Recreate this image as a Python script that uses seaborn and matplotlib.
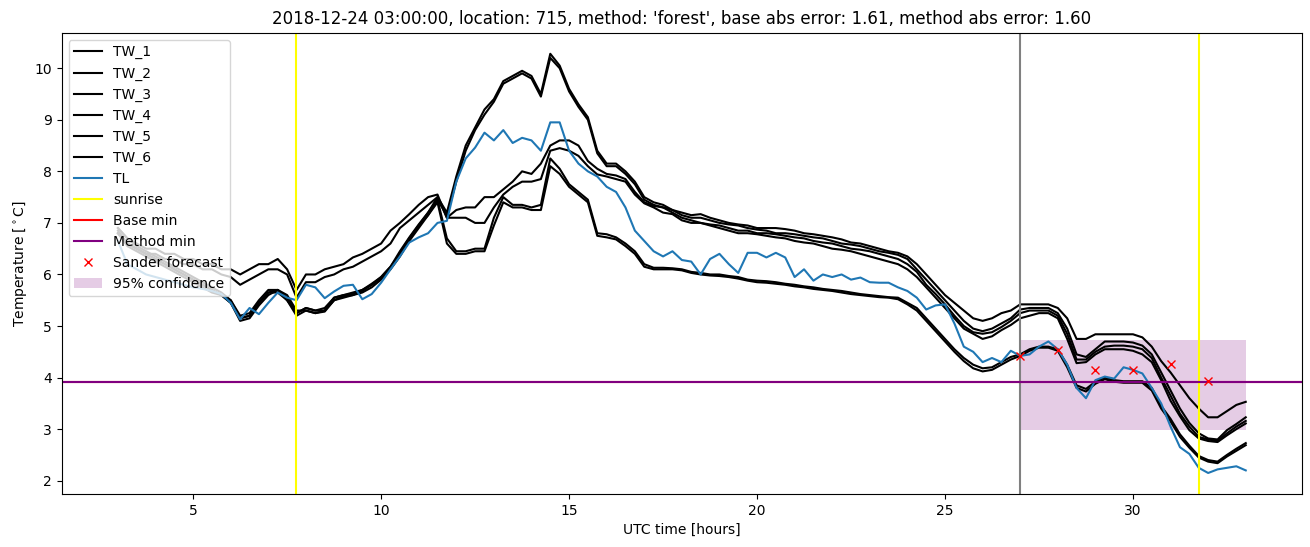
import numpy as np
import matplotlib
matplotlib.use("Agg")
import matplotlib.pyplot as plt
import seaborn as sns

# sampling grid: every 15 minutes from 03:00 (day 1) to 09:00 (day 2)
hours = np.arange(3.0, 33.01, 0.25)

TW_1 = [6.9, 6.7, 6.6, 6.5, 6.5, 6.4, 6.4, 6.3, 6.3, 6.2, 6.2, 6.1,
        6.1, 6.0, 6.1, 6.2, 6.2, 6.3, 6.1, 5.7, 6.0, 6.0, 6.1, 6.15,
        6.2, 6.33, 6.4, 6.5, 6.6, 6.85, 7.0, 7.17, 7.35, 7.5, 7.55, 7.1,
        7.25, 7.3, 7.3, 7.5, 7.5, 7.65, 7.8, 8.0, 7.95, 8.15, 8.5, 8.6,
        8.6, 8.5, 8.2, 8.05, 7.95, 7.92, 7.85, 7.6, 7.4, 7.33, 7.3, 7.25,
        7.15, 7.1, 7.1, 7.05, 7.0, 6.97, 6.95, 6.9, 6.87, 6.85, 6.8, 6.8,
        6.78, 6.75, 6.72, 6.7, 6.65, 6.6, 6.58, 6.55, 6.5, 6.45, 6.42, 6.38,
        6.3, 6.1, 5.9, 5.7, 5.5, 5.3, 5.1, 4.95, 4.9, 4.95, 5.05, 5.15,
        5.32, 5.35, 5.35, 5.35, 5.25, 4.95, 4.45, 4.4, 4.55, 4.7, 4.7, 4.7,
        4.68, 4.62, 4.45, 4.1, 3.75, 3.4, 3.12, 2.92, 2.82, 2.8, 2.98, 3.1,
        3.23]
TW_2 = [6.8, 6.6, 6.5, 6.4, 6.4, 6.3, 6.3, 6.2, 6.2, 6.1, 6.1, 6.0,
        5.95, 5.8, 5.9, 6.0, 6.1, 6.1, 6.0, 5.55, 5.85, 5.85, 5.95, 6.0,
        6.1, 6.15, 6.25, 6.35, 6.45, 6.6, 6.9, 7.05, 7.2, 7.35, 7.5, 7.1,
        7.1, 7.1, 7.0, 7.0, 7.3, 7.55, 7.7, 7.8, 7.8, 7.85, 8.4, 8.45,
        8.4, 8.3, 8.1, 7.94, 7.9, 7.85, 7.8, 7.55, 7.38, 7.3, 7.2, 7.17,
        7.05, 7.0, 7.0, 6.95, 6.9, 6.85, 6.8, 6.8, 6.78, 6.75, 6.72, 6.7,
        6.65, 6.62, 6.6, 6.55, 6.5, 6.48, 6.45, 6.4, 6.35, 6.3, 6.25, 6.2,
        6.1, 5.95, 5.75, 5.55, 5.35, 5.15, 4.95, 4.85, 4.75, 4.8, 4.92, 5.02,
        5.15, 5.2, 5.25, 5.25, 5.15, 4.75, 4.28, 4.3, 4.45, 4.55, 4.55, 4.55,
        4.52, 4.45, 4.3, 3.95, 3.55, 3.25, 2.98, 2.82, 2.77, 2.75, 2.88, 3.0,
        3.11]
TW_3 = [6.85, 6.6, 6.5, 6.4, 6.3, 6.2, 6.1, 6.0, 5.9, 5.8, 5.7, 5.6,
        5.5, 5.15, 5.2, 5.45, 5.65, 5.7, 5.55, 5.25, 5.35, 5.3, 5.35, 5.55,
        5.6, 5.65, 5.7, 5.8, 5.95, 6.15, 6.4, 6.7, 6.95, 7.2, 7.5, 7.2,
        7.9, 8.5, 8.85, 9.2, 9.4, 9.75, 9.85, 9.95, 9.85, 9.5, 10.28, 10.05,
        9.6, 9.3, 9.05, 8.4, 8.15, 8.15, 8.0, 7.8, 7.5, 7.4, 7.35, 7.25,
        7.2, 7.15, 7.17, 7.1, 7.05, 7.0, 6.97, 6.95, 6.9, 6.9, 6.9, 6.88,
        6.85, 6.8, 6.78, 6.75, 6.72, 6.68, 6.62, 6.6, 6.55, 6.5, 6.45, 6.42,
        6.35, 6.2, 6.0, 5.8, 5.6, 5.45, 5.3, 5.15, 5.1, 5.15, 5.25, 5.3,
        5.42, 5.42, 5.42, 5.42, 5.35, 5.15, 4.75, 4.75, 4.84, 4.84, 4.84, 4.84,
        4.84, 4.78, 4.6, 4.32, 4.1, 3.85, 3.6, 3.4, 3.23, 3.23, 3.35, 3.47,
        3.53]
TW_4 = [6.8, 6.55, 6.45, 6.35, 6.25, 6.15, 6.05, 5.95, 5.85, 5.75, 5.65, 5.6,
        5.45, 5.1, 5.15, 5.4, 5.6, 5.7, 5.6, 5.3, 5.3, 5.25, 5.3, 5.5,
        5.55, 5.6, 5.65, 5.75, 5.9, 6.1, 6.35, 6.65, 6.9, 7.15, 7.45, 7.15,
        7.8, 8.4, 8.8, 9.1, 9.35, 9.7, 9.8, 9.9, 9.8, 9.45, 10.2, 10.0,
        9.55, 9.25, 9.0, 8.35, 8.1, 8.1, 7.95, 7.75, 7.45, 7.35, 7.3, 7.2,
        7.1, 7.05, 7.0, 6.97, 6.95, 6.9, 6.85, 6.85, 6.8, 6.8, 6.78, 6.75,
        6.72, 6.7, 6.65, 6.62, 6.6, 6.55, 6.5, 6.48, 6.45, 6.4, 6.35, 6.3,
        6.2, 6.05, 5.8, 5.62, 5.42, 5.2, 5.0, 4.88, 4.85, 4.88, 4.98, 5.1,
        5.25, 5.3, 5.3, 5.3, 5.2, 4.85, 4.35, 4.35, 4.5, 4.6, 4.62, 4.62,
        4.6, 4.55, 4.38, 4.0, 3.65, 3.3, 3.05, 2.85, 2.8, 2.77, 2.92, 3.05,
        3.16]
TW_5 = [6.9, 6.7, 6.55, 6.45, 6.35, 6.25, 6.15, 6.05, 5.95, 5.85, 5.75, 5.65,
        5.5, 5.2, 5.25, 5.5, 5.7, 5.7, 5.5, 5.25, 5.35, 5.3, 5.3, 5.55,
        5.6, 5.62, 5.7, 5.82, 5.95, 6.15, 6.45, 6.72, 6.97, 7.2, 7.45, 6.7,
        6.45, 6.45, 6.5, 6.5, 7.1, 7.5, 7.35, 7.35, 7.3, 7.35, 8.25, 8.05,
        7.75, 7.6, 7.45, 6.8, 6.78, 6.72, 6.6, 6.45, 6.2, 6.13, 6.13, 6.12,
        6.1, 6.05, 6.03, 6.0, 6.0, 5.97, 5.95, 5.9, 5.88, 5.87, 5.85, 5.82,
        5.8, 5.77, 5.75, 5.72, 5.7, 5.68, 5.65, 5.62, 5.6, 5.58, 5.56, 5.55,
        5.45, 5.35, 5.15, 4.95, 4.75, 4.55, 4.38, 4.25, 4.18, 4.2, 4.3, 4.4,
        4.45, 4.55, 4.6, 4.6, 4.55, 4.25, 3.85, 3.78, 3.92, 4.0, 3.95, 3.93,
        3.93, 3.93, 3.8, 3.45, 3.2, 2.9, 2.68, 2.48, 2.4, 2.37, 2.5, 2.62,
        2.73]
TW_6 = [6.8, 6.6, 6.5, 6.4, 6.3, 6.2, 6.1, 6.0, 5.9, 5.8, 5.7, 5.6,
        5.45, 5.15, 5.2, 5.45, 5.65, 5.65, 5.5, 5.2, 5.3, 5.25, 5.28, 5.5,
        5.58, 5.6, 5.68, 5.8, 5.92, 6.12, 6.42, 6.7, 6.95, 7.15, 7.4, 6.6,
        6.4, 6.4, 6.45, 6.45, 6.95, 7.4, 7.3, 7.3, 7.25, 7.25, 8.1, 7.95,
        7.7, 7.55, 7.4, 6.75, 6.72, 6.68, 6.55, 6.4, 6.15, 6.1, 6.1, 6.1,
        6.08, 6.03, 6.0, 5.98, 5.97, 5.95, 5.92, 5.88, 5.85, 5.84, 5.82, 5.8,
        5.77, 5.75, 5.72, 5.7, 5.68, 5.65, 5.62, 5.6, 5.58, 5.56, 5.55, 5.52,
        5.42, 5.3, 5.1, 4.9, 4.7, 4.5, 4.32, 4.18, 4.12, 4.15, 4.25, 4.35,
        4.42, 4.52, 4.58, 4.58, 4.52, 4.2, 3.8, 3.73, 3.88, 3.97, 3.92, 3.9,
        3.9, 3.9, 3.75, 3.4, 3.15, 2.85, 2.64, 2.45, 2.37, 2.34, 2.47, 2.58,
        2.69]
TL = [6.65, 6.2, 6.1, 6.0, 5.95, 5.9, 5.85, 5.8, 5.75, 5.72, 5.68, 5.62,
      5.45, 5.13, 5.35, 5.23, 5.45, 5.65, 5.55, 5.5, 5.8, 5.75, 5.54, 5.67,
      5.78, 5.8, 5.52, 5.62, 5.84, 6.1, 6.35, 6.62, 6.72, 6.8, 7.0, 7.04,
      7.8, 8.25, 8.46, 8.75, 8.6, 8.8, 8.55, 8.65, 8.6, 8.4, 8.95, 8.95,
      8.4, 8.15, 8.0, 7.9, 7.7, 7.6, 7.3, 6.85, 6.65, 6.45, 6.35, 6.45,
      6.28, 6.25, 6.0, 6.3, 6.4, 6.2, 6.03, 6.42, 6.42, 6.33, 6.42, 6.33,
      5.95, 6.1, 5.88, 6.0, 5.95, 6.0, 5.9, 5.94, 5.85, 5.84, 5.84, 5.75,
      5.68, 5.55, 5.32, 5.4, 5.42, 5.05, 4.6, 4.5, 4.3, 4.38, 4.3, 4.52,
      4.42, 4.45, 4.6, 4.7, 4.55, 4.25, 3.8, 3.6, 3.95, 4.02, 3.98, 4.2,
      4.15, 4.08, 3.8, 3.5, 3.05, 2.65, 2.52, 2.25, 2.15, 2.22, 2.25, 2.28,
      2.2]

sunrise_hours = [7.74, 31.76]
forecast_time = 27.0
base_min = 3.92
method_min = 3.92
sander_hours = [27, 28, 29, 30, 31, 32]
sander_values = [4.41, 4.54, 4.15, 4.15, 4.27, 3.93]
conf_hours = [27, 33]
conf_low = 2.98
conf_high = 4.72

fig, ax = plt.subplots(figsize=(13.1, 5.47), dpi=100)
fig.subplots_adjust(left=0.047, right=0.994, top=0.94, bottom=0.097)

tw_series = {"TW_1": TW_1, "TW_2": TW_2, "TW_3": TW_3,
             "TW_4": TW_4, "TW_5": TW_5, "TW_6": TW_6}
for name, vals in tw_series.items():
    sns.lineplot(x=hours, y=vals, color="black", linewidth=1.5, label=name, ax=ax)
sns.lineplot(x=hours, y=TL, color="tab:blue", linewidth=1.5, label="TL", ax=ax)

ax.axvline(sunrise_hours[0], color="yellow", label="sunrise")
ax.axvline(sunrise_hours[1], color="yellow")
ax.axvline(forecast_time, color="grey")
# base min sits under the method min line (errors nearly equal)
ax.axhline(base_min, color="red", label="Base min")
ax.axhline(method_min, color="purple", label="Method min")
ax.plot(sander_hours, sander_values, "rx", label="Sander forecast")
ax.fill_between(conf_hours, conf_low, conf_high, color="purple", alpha=0.2,
                linewidth=0, label="95% confidence")

ax.set_title("2018-12-24 03:00:00, location: 715, method: 'forest', "
             "base abs error: 1.61, method abs error: 1.60")
ax.set_xlabel("UTC time [hours]")
ax.set_ylabel(r"Temperature [$^\circ$C]")
ax.legend(loc="upper left")

fig.savefig("out.png", dpi=100)
